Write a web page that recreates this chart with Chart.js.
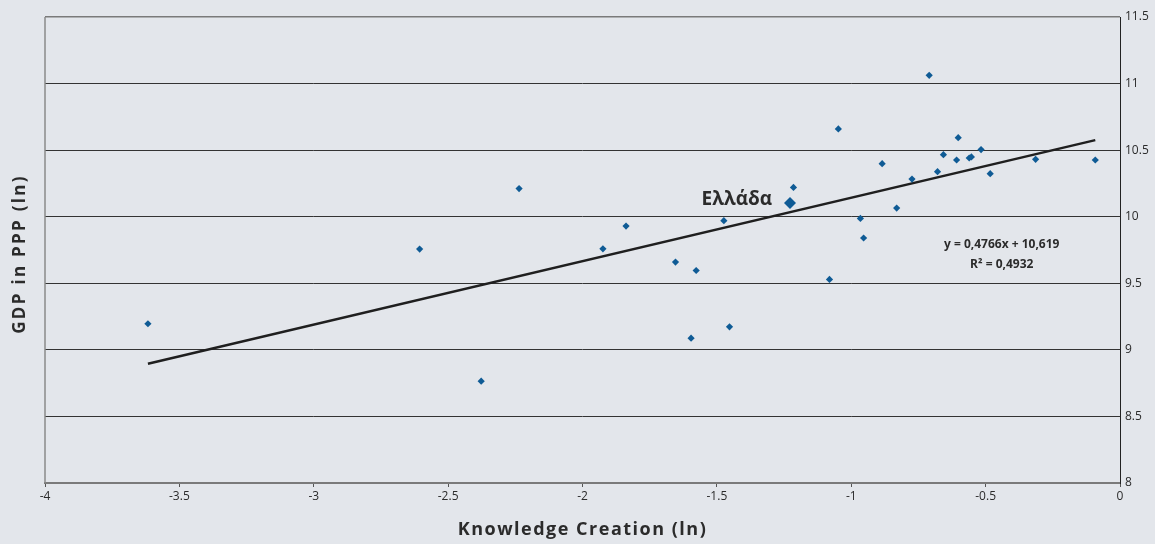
<!DOCTYPE html>
<html>
<head>
<meta charset="utf-8">
<script src="https://cdn.jsdelivr.net/npm/chart.js@4"></script>
<style>
    html, body { margin: 0; padding: 0; background: #e3e6eb; }
    #wrap { width: 1155px; height: 544px; position: relative; }
</style>
</head>
<body>
<div id="wrap"><canvas id="chart" width="1155" height="544"></canvas></div>
<script>
// --- Data ---
const knowledgeX = [
    -3.617, -2.606, -2.377, -2.236, -1.924, -1.838, -1.654, -1.596, -1.577, -1.474,
    -1.453, -1.215, -1.081, -1.048, -0.966, -0.954, -0.885, -0.831, -0.774, -0.710,
    -0.679, -0.657, -0.608, -0.602, -0.561, -0.553, -0.517, -0.483, -0.314, -0.092,
];
const gdpY = [
    9.196, 9.757, 8.765, 10.211, 9.759, 9.930, 9.659, 9.088, 9.596, 9.970,
    9.173, 10.220, 9.529, 10.659, 9.987, 9.840, 10.398, 10.065, 10.283, 11.062,
    10.338, 10.466, 10.426, 10.594, 10.441, 10.449, 10.504, 10.323, 10.431, 10.426,
];
const greeceX = [-1.228];
const greeceY = [10.103];
const trendX = [-3.617, -0.092];
const trendY = [8.895, 10.575];

const X_TITLE = "Knowledge Creation (ln)";
const Y_TITLE = "GDP in PPP (ln)";
const GREECE_LABEL = "Ελλάδα";
const EQ_LINE1 = "y = 0,4766x + 10,619";
const EQ_LINE2 = "R² = 0,4932";

const BG = "#e3e6eb";
const TEXT = "#2b2b2b";
const MARKER = "#0f5b95";
const FONT = "'Open Sans', sans-serif";

const bgPlugin = {
    id: "bg",
    beforeDraw(chart) {
        const { ctx, width, height } = chart;
        ctx.save();
        ctx.fillStyle = BG;
        ctx.fillRect(0, 0, width, height);
        ctx.restore();
    },
};

const textPlugin = {
    id: "texts",
    afterDraw(chart) {
        const { ctx, chartArea: a, scales } = chart;
        ctx.save();
        // left frame line
        ctx.strokeStyle = "#8a8a8a";
        ctx.lineWidth = 1.5;
        ctx.beginPath();
        ctx.moveTo(a.left, a.top);
        ctx.lineTo(a.left, a.bottom);
        ctx.stroke();

        ctx.fillStyle = TEXT;
        ctx.textAlign = "center";
        ctx.textBaseline = "middle";

        // x title
        ctx.font = `bold 18px ${FONT}`;
        ctx.letterSpacing = "1.5px";
        ctx.fillText(X_TITLE, (a.left + a.right) / 2, 530);

        // y title
        ctx.save();
        ctx.font = `bold 17px ${FONT}`;
        ctx.translate(20, 254);
        ctx.rotate(-Math.PI / 2);
        ctx.letterSpacing = "2.3px";
        ctx.fillText(Y_TITLE, 0, 0);
        ctx.restore();
        ctx.letterSpacing = "0px";

        // Greece label
        const gx = scales.x.getPixelForValue(greeceX[0]);
        const gy = scales.y.getPixelForValue(greeceY[0]);
        ctx.font = `bold 19px ${FONT}`;
        ctx.textAlign = "right";
        ctx.fillText(GREECE_LABEL, gx - 18, gy - 3);

        // regression text
        ctx.font = `bold 12px ${FONT}`;
        ctx.textAlign = "center";
        const ex = scales.x.getPixelForValue(-0.44);
        ctx.fillText(EQ_LINE1, ex, scales.y.getPixelForValue(9.79));
        ctx.fillText(EQ_LINE2, ex, scales.y.getPixelForValue(9.64));
        ctx.restore();
    },
};

const fmt = v => (Math.abs(v) < 1e-9 ? "0" : String(Math.round(v * 10) / 10));

new Chart(document.getElementById("chart"), {
    type: "scatter",
    data: {
        datasets: [
            {
                label: "Greece",
                data: greeceX.map((x, i) => ({ x, y: greeceY[i] })),
                pointStyle: "rectRot",
                pointRadius: 6,
                backgroundColor: MARKER,
                borderColor: MARKER,
                borderWidth: 0,
            },
            {
                label: "Countries",
                data: knowledgeX.map((x, i) => ({ x, y: gdpY[i] })),
                pointStyle: "rectRot",
                pointRadius: 3.6,
                backgroundColor: MARKER,
                borderColor: MARKER,
                borderWidth: 0,
            },
            {
                type: "line",
                label: "Trend",
                data: trendX.map((x, i) => ({ x, y: trendY[i] })),
                borderColor: "#1f1f1f",
                borderWidth: 2.5,
                pointRadius: 0,
                fill: false,
                order: 5,
            },
        ],
    },
    options: {
        responsive: false,
        animation: false,
        layout: { padding: { left: 45, top: 17, right: 0, bottom: 0 } },
        plugins: { legend: { display: false }, tooltip: { enabled: false } },
        scales: {
            x: {
                type: "linear",
                position: "bottom",
                min: -4,
                max: 0,
                afterFit: s => { s.height = 61; },
                ticks: {
                    stepSize: 0.5,
                    color: TEXT,
                    font: { family: FONT, size: 12 },
                    padding: 2,
                    maxRotation: 0,
                    callback: fmt,
                },
                grid: { drawOnChartArea: false, drawTicks: true, tickLength: 4, color: "#555" },
                border: { color: "#7a7a7a", width: 2 },
            },
            y: {
                type: "linear",
                position: "right",
                min: 8,
                max: 11.5,
                afterFit: s => { s.width = 35; },
                ticks: {
                    stepSize: 0.5,
                    color: TEXT,
                    font: { family: FONT, size: 12 },
                    padding: 5,
                    callback: fmt,
                },
                grid: {
                    drawTicks: false,
                    color: c => (c.index === 0 || c.index === 7 ? "#7a7a7a" : "#333"),
                    lineWidth: c => (c.index === 7 ? 1.5 : 1),
                },
                border: { color: "#222", width: 1 },
            },
        },
    },
    plugins: [bgPlugin, textPlugin],
});
</script>
</body>
</html>
